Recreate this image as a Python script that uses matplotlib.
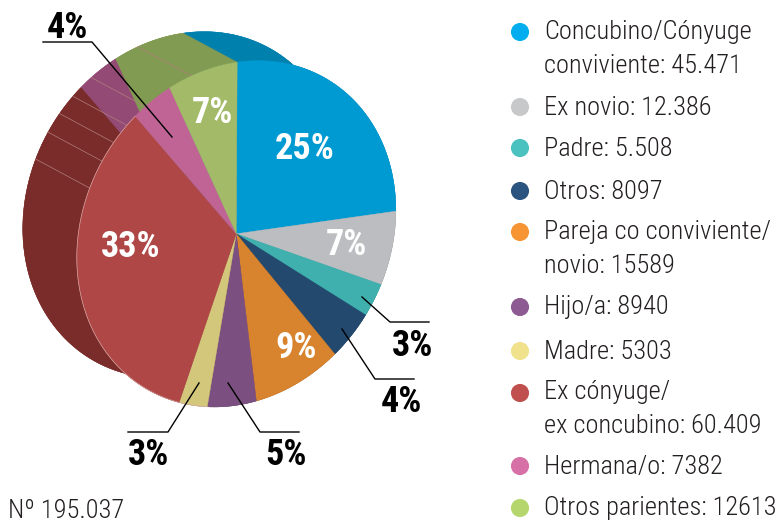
import numpy as np
import matplotlib
matplotlib.use('Agg')
import matplotlib.pyplot as plt
from matplotlib.patches import Polygon

# values from the legend, clockwise from the top of the pie
slice_values = [45471, 12386, 5508, 8097, 15589, 8940, 5303, 60409, 7382, 12613]
front_colors = ['#009ad3', '#bcbdc0', '#3fb0ae', '#23496f', '#d8832e',
                '#7b5080', '#d3c77b', '#ae4746', '#bf6495', '#a3bb68']
side_colors = ['#0080ad', '#8a8a8c', '#2f8583', '#183450', '#a05f20',
               '#5c3c60', '#9e955c', '#7a2c2a', '#934a75', '#829b52']
pct_labels = ['25%', '7%', '3%', '4%', '9%', '5%', '3%', '33%', '4%', '7%']

legend_labels = ['Concubino/Cónyuge\nconviviente: 45.471', 'Ex novio: 12.386', 'Padre: 5.508',
                 'Otros: 8097', 'Pareja co conviviente/\nnovio: 15589', 'Hijo/a: 8940',
                 'Madre: 5303', 'Ex cónyuge/\nex concubino: 60.409', 'Hermana/o: 7382',
                 'Otros parientes: 12613']
legend_colors = ['#00aeef', '#c7c8ca', '#4cc2c0', '#2a5380', '#f79433',
                 '#8e5a92', '#f0e28c', '#c0504d', '#d870a8', '#b5d66d']
legend_dot_y = [32, 107, 148, 191, 232, 307, 351, 393, 466, 508]
legend_text_y = [49, 108, 149, 192, 249, 307, 352, 409, 467, 508]

# light hairlines on the side wall, as pie angles
rib_angles = [190.5, 181, 174, 167, 158.5, 140]

# the pie is a tilted ellipse: centre and the affine map from the unit circle
center = np.array([236.3, 233.8])
A = np.array([[88.53, -132.7], [-155.86, -75.37]])
start_angle = 123.4
extrude = np.array([-54, -29])


def arc(a0, a1):
    t = np.radians(np.linspace(a0, a1, 60))
    return center + (A @ np.vstack([np.sin(t), -np.cos(t)])).T


plt.rcParams['font.family'] = ['Roboto Condensed', 'Archivo Narrow', 'DejaVu Sans']
fig = plt.figure(figsize=(7.82, 5.22), dpi=100)
ax = fig.add_axes([0, 0, 1, 1])
ax.set_xlim(0, 782)
ax.set_ylim(522, 0)
ax.axis('off')

sweep = np.array(slice_values) / sum(slice_values) * 360
edges = start_angle - np.concatenate([[0], np.cumsum(sweep)])

# back face and side wall first
for i, c in enumerate(side_colors):
    pts = arc(edges[i], edges[i + 1])
    ax.add_patch(Polygon(np.vstack([center + extrude, pts + extrude]), fc=c, ec=c, lw=0.3, zorder=1))
    ax.add_patch(Polygon(np.vstack([pts, (pts + extrude)[::-1]]), fc=c, ec=c, lw=0.3, zorder=1))

for a in rib_angles:
    p = arc(a, a)[0]
    ax.plot([p[0], p[0] + extrude[0]], [p[1], p[1] + extrude[1]], color='#b07f7c', lw=0.5, zorder=2)

# front face
for i, c in enumerate(front_colors):
    pts = arc(edges[i], edges[i + 1])
    ax.add_patch(Polygon(np.vstack([center, pts]), fc=c, ec=c, lw=0.3, zorder=3))

# pale rim where the front meets the red side
rim = arc(edges[7] + 10, edges[8])
ax.plot(rim[:, 0], rim[:, 1], color='#d9a9a5', lw=0.5, zorder=4)

# percentages inside
inside = {0: (305, 149), 1: (346, 245), 4: (296, 348), 7: (131, 247), 9: (212, 113)}
for i, (x, y) in inside.items():
    ax.text(x, y, pct_labels[i], color='white', fontsize=26, fontweight='bold',
            ha='center', va='center', zorder=5)

# outside labels with leader lines
outside = {
    8: ((67, 28), [(43, 42), (92, 42), (172, 137)]),
    2: ((413, 346), [(362, 297), (390, 322), (429, 322)]),
    3: ((401, 402), [(342, 329), (375, 379), (414, 379)]),
    5: ((286, 455), [(228, 383), (260, 432), (299, 432)]),
    6: ((149, 455), [(199, 383), (168, 432), (128, 432)]),
}
for i, (pos, line) in outside.items():
    ax.text(pos[0], pos[1], pct_labels[i], color='black', fontsize=26, fontweight='bold',
            ha='center', va='center', zorder=5)
    xs, ys = zip(*line)
    ax.plot(xs, ys, color='black', lw=1, zorder=4)

# legend
ax.scatter([520] * len(legend_dot_y), legend_dot_y, s=170, c=legend_colors, linewidths=0, zorder=3)
for lab, y in zip(legend_labels, legend_text_y):
    ax.text(544, y, lab, color='#231f20', fontsize=19, fontweight='light',
            ha='left', va='center', linespacing=1.5)

ax.text(8, 511, 'Nº 195.037', color='#231f20', fontsize=19, fontweight='light', ha='left', va='center')

fig.savefig('out.png', dpi=100)
